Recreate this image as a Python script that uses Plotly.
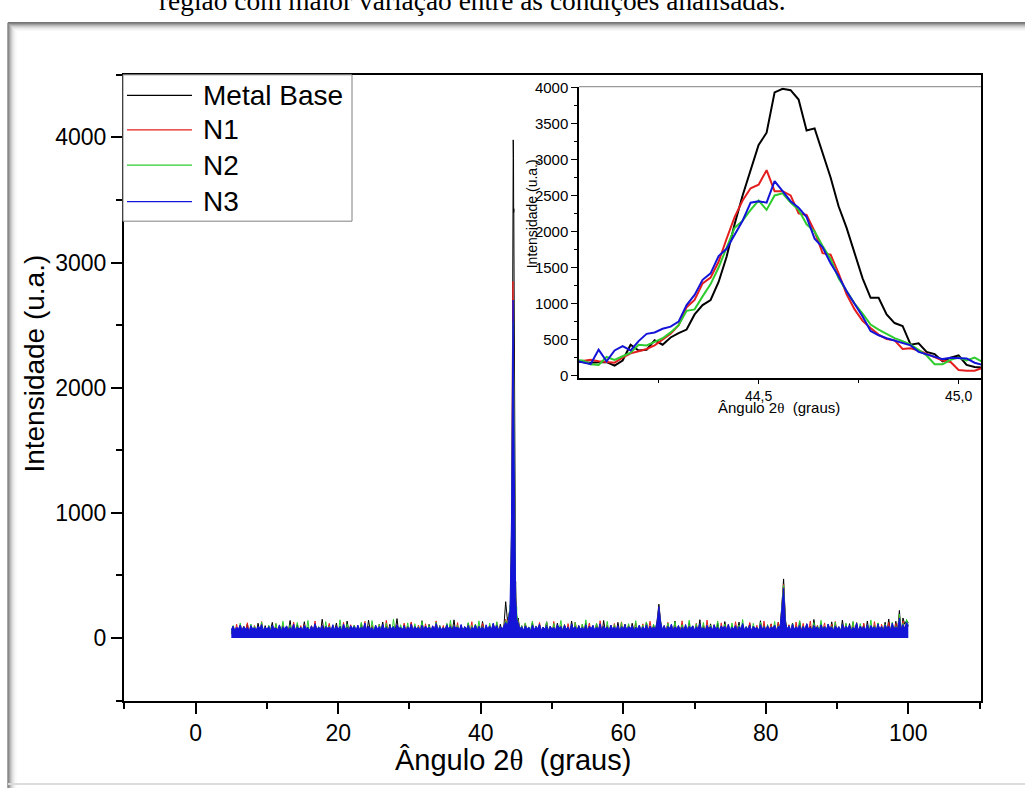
import numpy as np
import plotly.graph_objects as go

# ---------------------------------------------------------------
# XRD patterns (intensity in u.a.) for the base metal and N1..N3
# Sampling: coarse scan 5.00-44.00 and 45.25-100.00 (0.25 deg),
# fine scan around the (110) reflection 44.04-45.06 (0.02 deg)
# ---------------------------------------------------------------
series_names = ["Metal Base", "N1", "N2", "N3"]
series_colors = ["#000000", "#e41e1e", "#2ecc2e", "#1414d8"]

low_start, low_step, low_count = 5.0, 0.25, 157
peak_start, peak_step, peak_count = 44.04, 0.02, 52
high_start, high_step, high_count = 45.25, 0.25, 220

# --- 5.00 .. 44.00 ---
base_low = [
    40, 95, 22, 70, 55, 105, 30, 88, 60, 112,
    25, 90, 48, 76, 35, 118, 52, 84, 28, 99,
    45, 72, 63, 125, 38, 80, 20, 101, 58, 86,
    33, 94, 50, 140, 27, 83, 61, 107, 42, 75,
    56, 130, 31, 89, 47, 98, 24, 115, 65, 81,
    36, 150, 53, 92, 29, 104, 44, 87, 60, 120,
    26, 96, 49, 78, 37, 135, 55, 91, 32, 102,
    58, 85, 21, 117, 46, 93, 34, 142, 62, 88,
    39, 100, 27, 79, 54, 128, 30, 95, 48, 110,
    25, 86, 59, 155, 41, 90, 35, 106, 52, 82,
    44, 121, 28, 97, 63, 84, 38, 138, 50, 92,
    23, 109, 57, 80, 40, 126, 32, 99, 46, 87,
    61, 113, 26, 94, 53, 145, 35, 83, 49, 102,
    30, 90, 58, 119, 42, 85, 24, 108, 55, 96,
    37, 132, 47, 88, 29, 101, 60, 115, 43, 98,
    34, 110, 52, 95, 290, 140, 195]
n1_low = [
    30, 85, 50, 110, 26, 78, 60, 95, 35, 122,
    44, 70, 22, 100, 57, 83, 38, 131, 48, 76,
    29, 97, 62, 88, 33, 115, 46, 72, 55, 104,
    24, 92, 40, 79, 64, 127, 31, 86, 52, 99,
    36, 108, 27, 81, 58, 94, 42, 136, 23, 77,
    50, 101, 34, 89, 61, 118, 28, 84, 45, 96,
    56, 73, 37, 125, 25, 91, 53, 106, 41, 80,
    32, 98, 63, 87, 47, 133, 26, 75, 59, 103,
    39, 90, 22, 112, 54, 82, 35, 141, 49, 93,
    60, 78, 30, 105, 43, 86, 27, 119, 57, 97,
    34, 128, 51, 81, 24, 102, 62, 89, 38, 114,
    46, 74, 29, 96, 55, 137, 33, 85, 48, 100,
    25, 92, 60, 111, 40, 79, 53, 123, 28, 94,
    58, 83, 36, 107, 45, 130, 31, 88, 62, 99,
    27, 117, 50, 80, 39, 104, 56, 91, 33, 126,
    48, 95, 30, 86, 150, 110, 210]
n2_low = [
    35, 100, 55, 80, 28, 120, 48, 90, 62, 74,
    31, 112, 44, 96, 57, 85, 25, 128, 51, 79,
    38, 103, 66, 91, 30, 117, 47, 83, 59, 134,
    27, 95, 42, 107, 54, 78, 36, 124, 63, 88,
    29, 99, 50, 140, 33, 86, 58, 111, 41, 92,
    65, 81, 26, 131, 46, 97, 37, 105, 56, 84,
    32, 145, 52, 89, 24, 113, 61, 93, 43, 102,
    39, 87, 58, 126, 30, 98, 49, 80, 35, 139,
    55, 94, 27, 109, 64, 85, 40, 118, 47, 91,
    33, 150, 53, 82, 28, 106, 60, 96, 38, 121,
    45, 88, 26, 114, 57, 93, 34, 133, 50, 79,
    62, 101, 31, 90, 44, 127, 36, 97, 59, 84,
    29, 116, 48, 142, 35, 89, 56, 104, 40, 95,
    63, 86, 27, 123, 46, 99, 32, 110, 54, 137,
    38, 92, 60, 81, 28, 119, 51, 96, 42, 130,
    57, 88, 34, 100, 140, 100, 190]
n3_low = [
    67, 95, 59, 86, 73, 103, 62, 91, 70, 85,
    56, 99, 72, 83, 64, 94, 77, 108, 60, 88,
    69, 92, 55, 101, 74, 81, 63, 105, 58, 90,
    75, 97, 61, 84, 68, 111, 57, 89, 71, 87,
    64, 102, 76, 82, 59, 95, 67, 114, 62, 88,
    70, 100, 55, 93, 78, 85, 65, 106, 60, 96,
    73, 90, 57, 112, 69, 86, 62, 98, 77, 92,
    59, 104, 67, 88, 72, 119, 61, 94, 70, 84,
    56, 101, 74, 91, 64, 108, 68, 87, 58, 97,
    71, 93, 60, 105, 76, 85, 65, 99, 57, 89,
    69, 111, 62, 92, 73, 86, 59, 102, 67, 95,
    75, 88, 57, 98, 71, 115, 61, 90, 68, 84,
    63, 104, 72, 92, 58, 97, 78, 87, 66, 108,
    60, 91, 70, 100, 56, 85, 74, 103, 62, 94,
    68, 89, 59, 106, 71, 96, 65, 117, 76, 101,
    63, 93, 69, 99, 125, 95, 170]

# --- 44.04 .. 45.06 (fine scan, shown in the inset) ---
base_peak = [
    200, 190, 180, 185, 190, 140, 210, 430, 350, 360, 490,
    430, 530, 590, 640, 850, 980, 1050, 1300, 1650, 2100,
    2500, 2850, 3200, 3370, 3930, 3980, 3960, 3830, 3400, 3430,
    3100, 2750, 2350, 2050, 1700, 1350, 1080, 1080, 850, 730,
    690, 430, 450, 330, 300, 200, 250, 280, 150, 120, 110]
n1_peak = [
    190, 200, 220, 200, 190, 180, 250, 310, 340, 370, 420,
    500, 580, 700, 950, 1050, 1280, 1360, 1580, 1900, 2200,
    2430, 2600, 2650, 2850, 2560, 2560, 2500, 2250, 2230, 2000,
    1700, 1680, 1420, 1130, 920, 760, 660, 570, 510, 490,
    370, 380, 350, 300, 260, 210, 190, 80, 70, 70, 110]
n2_peak = [
    220, 210, 160, 150, 260, 220, 270, 320, 430, 420, 470,
    520, 600, 700, 900, 920, 1100, 1270, 1500, 1780, 2050,
    2150, 2300, 2430, 2300, 2500, 2530, 2400, 2300, 2100, 2000,
    1800, 1620, 1350, 1170, 1000, 860, 710, 640, 580, 520,
    480, 430, 360, 280, 160, 160, 220, 250, 210, 250, 190]
n3_peak = [
    210, 190, 160, 360, 200, 350, 410, 350, 480, 580, 600,
    650, 680, 750, 980, 1120, 1330, 1420, 1660, 1760, 1960,
    2150, 2400, 2420, 2400, 2700, 2560, 2420, 2330, 2200, 1900,
    1780, 1560, 1380, 1170, 1000, 820, 620, 560, 520, 490,
    460, 420, 330, 300, 260, 230, 250, 240, 240, 180, 150]

# --- 45.25 .. 100.00 ---
base_high = [
    160, 60, 98, 35, 112, 50, 88, 27, 125, 44,
    92, 58, 104, 31, 86, 62, 130, 39, 95, 47,
    82, 25, 118, 55, 90, 36, 107, 64, 85, 29,
    136, 48, 94, 33, 100, 57, 89, 41, 121, 26,
    97, 53, 84, 38, 114, 60, 92, 30, 140, 45,
    87, 22, 103, 56, 93, 34, 125, 49, 81, 62,
    110, 28, 96, 43, 118, 59, 86, 37, 99, 51,
    84, 33, 128, 46, 91, 25, 105, 58, 140, 270,
    130, 40, 97, 30, 115, 55, 88, 42, 135, 26,
    92, 60, 108, 36, 86, 49, 122, 31, 95, 57,
    83, 44, 146, 28, 101, 62, 90, 35, 113, 50,
    88, 24, 119, 53, 96, 40, 131, 58, 85, 33,
    104, 47, 92, 61, 127, 29, 99, 43, 88, 55,
    116, 36, 94, 50, 83, 27, 138, 45, 102, 59,
    90, 32, 110, 48, 97, 38, 124, 60, 260, 472,
    150, 44, 100, 35, 120, 56, 92, 29, 134, 51,
    87, 63, 112, 40, 95, 26, 148, 54, 90, 37,
    118, 46, 85, 58, 106, 31, 129, 42, 96, 61,
    89, 34, 143, 52, 98, 28, 115, 47, 84, 60,
    123, 38, 93, 55, 108, 30, 136, 44, 91, 57,
    100, 27, 118, 50, 87, 62, 126, 35, 152, 48,
    95, 41, 133, 58, 220, 39, 160, 110, 140, 120]
n1_high = [
    140, 45, 92, 30, 118, 55, 84, 38, 105, 26,
    97, 60, 124, 42, 88, 33, 110, 51, 79, 28,
    132, 47, 93, 36, 101, 58, 86, 24, 115, 49,
    82, 35, 127, 53, 95, 29, 108, 44, 90, 61,
    120, 32, 87, 50, 98, 25, 138, 46, 81, 57,
    103, 39, 92, 28, 116, 54, 85, 41, 129, 34,
    89, 59, 106, 31, 96, 48, 122, 37, 83, 52,
    113, 27, 94, 45, 134, 56, 88, 30, 120, 240,
    115, 43, 99, 35, 125, 50, 86, 27, 109, 58,
    91, 33, 137, 47, 84, 61, 104, 29, 96, 44,
    118, 52, 87, 36, 99, 25, 143, 49, 90, 38,
    106, 57, 82, 31, 121, 46, 93, 62, 111, 28,
    85, 40, 130, 54, 97, 34, 108, 47, 88, 59,
    124, 26, 95, 51, 102, 37, 89, 44, 135, 32,
    92, 60, 114, 29, 87, 48, 126, 39, 240, 430,
    140, 35, 106, 55, 91, 30, 128, 46, 84, 57,
    117, 33, 98, 49, 136, 27, 90, 58, 103, 41,
    86, 62, 121, 36, 95, 45, 109, 28, 132, 53,
    88, 39, 100, 56, 113, 31, 93, 47, 127, 34,
    97, 60, 85, 42, 119, 26, 104, 51, 90, 38,
    131, 48, 94, 33, 110, 57, 87, 29, 125, 45,
    99, 36, 116, 52, 180, 30, 135, 60, 105, 90]
n2_high = [
    130, 52, 98, 34, 121, 47, 89, 62, 135, 29,
    94, 56, 108, 38, 85, 60, 127, 43, 92, 31,
    116, 49, 87, 65, 140, 33, 96, 54, 83, 40,
    102, 27, 125, 58, 91, 36, 112, 48, 145, 30,
    88, 61, 99, 42, 119, 25, 93, 55, 86, 37,
    133, 50, 95, 28, 107, 63, 84, 41, 124, 35,
    97, 57, 115, 30, 90, 46, 138, 39, 87, 60,
    104, 26, 128, 53, 94, 44, 110, 32, 115, 230,
    125, 48, 92, 37, 118, 59, 85, 29, 130, 52,
    96, 40, 106, 62, 88, 33, 142, 47, 91, 56,
    113, 28, 97, 45, 124, 36, 89, 58, 103, 31,
    86, 64, 136, 41, 95, 27, 111, 53, 90, 38,
    120, 47, 84, 60, 105, 34, 148, 42, 93, 55,
    98, 29, 117, 50, 87, 39, 126, 61, 94, 26,
    109, 46, 91, 57, 132, 35, 100, 44, 250, 420,
    130, 52, 96, 31, 114, 58, 88, 40, 139, 27,
    92, 63, 107, 36, 85, 48, 123, 30, 97, 54,
    141, 43, 90, 59, 112, 25, 94, 51, 128, 37,
    87, 62, 103, 33, 119, 46, 91, 56, 134, 29,
    95, 40, 115, 61, 88, 35, 106, 49, 144, 32,
    98, 57, 121, 28, 93, 44, 110, 60, 86, 39,
    127, 50, 96, 34, 190, 55, 118, 42, 150, 100]
n3_high = [
    120, 70, 90, 61, 97, 74, 85, 58, 104, 67,
    92, 76, 109, 60, 88, 69, 99, 56, 94, 72,
    86, 63, 106, 77, 92, 59, 101, 68, 89, 55,
    112, 73, 91, 61, 98, 70, 85, 65, 105, 58,
    94, 75, 102, 62, 88, 67, 114, 56, 96, 71,
    90, 60, 103, 74, 87, 66, 100, 55, 92, 69,
    107, 63, 91, 78, 97, 59, 86, 72, 103, 62,
    90, 70, 105, 60, 96, 73, 88, 65, 130, 250,
    125, 67, 99, 58, 94, 75, 111, 63, 89, 71,
    101, 57, 87, 68, 108, 61, 93, 76, 98, 59,
    91, 72, 113, 65, 86, 58, 102, 74, 91, 62,
    106, 69, 89, 56, 97, 77, 94, 66, 109, 60,
    87, 71, 100, 59, 92, 73, 116, 63, 90, 68,
    103, 57, 95, 75, 85, 62, 107, 70, 91, 60,
    99, 67, 88, 78, 104, 58, 93, 85, 235, 400,
    125, 73, 97, 60, 110, 68, 89, 76, 102, 57,
    94, 65, 115, 71, 87, 61, 100, 74, 90, 58,
    105, 69, 92, 63, 112, 77, 88, 59, 98, 72,
    91, 56, 108, 67, 95, 75, 103, 62, 86, 70,
    118, 60, 96, 73, 91, 66, 106, 57, 100, 76,
    89, 64, 111, 69, 93, 59, 104, 74, 97, 61,
    120, 71, 90, 65, 160, 67, 107, 75, 125, 100]

# Axis ticks
main_x_ticks = [0, 20, 40, 60, 80, 100]
main_x_minor = [-10, 10, 30, 50, 70, 90, 110]
main_y_ticks = [0, 1000, 2000, 3000, 4000]
main_y_minor = [-500, 500, 1500, 2500, 3500, 4500]
inset_x_ticks = [44.5, 45.0]
inset_x_labels = ["44,5", "45,0"]
inset_x_minor = [44.25, 44.75]
inset_y_ticks = [0, 500, 1000, 1500, 2000, 2500, 3000, 3500, 4000]
inset_y_minor = [250, 750, 1250, 1750, 2250, 2750, 3250, 3750]

low_angles = np.round(low_start + low_step * np.arange(low_count), 2)
peak_angles = np.round(peak_start + peak_step * np.arange(peak_count), 2)
high_angles = np.round(high_start + high_step * np.arange(high_count), 2)
angles = np.concatenate([low_angles, peak_angles, high_angles])

lows = [base_low, n1_low, n2_low, n3_low]
peaks = [base_peak, n1_peak, n2_peak, n3_peak]
highs = [base_high, n1_high, n2_high, n3_high]

W, H = 1025, 794


def px(x):
    return x / W


def py(y):
    return 1 - y / H


FONT = "Arial, 'Liberation Sans', sans-serif"
SERIF = "'Times New Roman', 'Liberation Serif', serif"

fig = go.Figure()

# full-range patterns; the last one (drawn on top) is shaded down to zero
for i, (name, color, lo, pk, hi) in enumerate(zip(series_names, series_colors, lows, peaks, highs)):
    last = i == len(series_names) - 1
    fig.add_trace(go.Scatter(
        x=angles, y=np.concatenate([lo, pk, hi]), name=name, mode="lines",
        line=dict(color=color, width=1), fill="tozeroy" if last else None,
        fillcolor=color if last else None, showlegend=False, xaxis="x", yaxis="y"))

# zoom on the main reflection
for name, color, pk in zip(series_names, series_colors, peaks):
    fig.add_trace(go.Scatter(
        x=peak_angles, y=pk, name=name, mode="lines", showlegend=False,
        line=dict(color=color, width=2), xaxis="x2", yaxis="y2"))

# plot-area geometry (pixels)
mx0, mx1, my0, my1 = 124, 981, 68, 705
ix0, ix1, iy0, iy1 = 579, 981, 80, 377

axis_common = dict(showgrid=False, zeroline=False, showline=True, linecolor="black",
                   ticks="outside", tickcolor="black")

fig.update_layout(
    width=W, height=H, margin=dict(l=0, r=0, t=0, b=0),
    paper_bgcolor="white", plot_bgcolor="rgba(0,0,0,0)",
    font=dict(family=FONT, color="black"),
    showlegend=False,
    xaxis=dict(domain=[px(mx0), px(mx1)], range=[-10.06, 110.2],
               tickvals=main_x_ticks, ticklen=11, tickwidth=2, linewidth=2, mirror=True,
               tickfont=dict(size=23, family=FONT),
               minor=dict(tickvals=main_x_minor, ticklen=6, tickwidth=2, ticks="outside",
                          tickcolor="black"),
               **axis_common),
    yaxis=dict(domain=[py(my1), py(my0)], range=[-500, 4500],
               tickvals=main_y_ticks, ticklen=11, tickwidth=2, linewidth=2, mirror=True,
               tickfont=dict(size=23, family=FONT),
               minor=dict(tickvals=main_y_minor, ticklen=6, tickwidth=2, ticks="outside",
                          tickcolor="black"),
               **axis_common),
    xaxis2=dict(domain=[px(ix0), px(ix1)], range=[44.051, 45.056], anchor="y2",
                tickvals=inset_x_ticks, ticktext=inset_x_labels, ticklen=4, tickwidth=1,
                linewidth=1.5, tickfont=dict(size=14, family=FONT),
                minor=dict(tickvals=inset_x_minor, ticklen=3, tickwidth=1, ticks="outside",
                           tickcolor="black"),
                **axis_common),
    yaxis2=dict(domain=[py(iy1), py(iy0)], range=[-37, 4010], anchor="x2",
                tickvals=inset_y_ticks, ticklen=6, tickwidth=1, linewidth=1.5,
                tickfont=dict(size=15, family=FONT),
                minor=dict(tickvals=inset_y_minor, ticklen=3, tickwidth=1, ticks="outside",
                           tickcolor="black"),
                **axis_common),
)

shapes = []
# page frame with a soft drop shadow on the top and left edges
shade = ["#4d4d4d", "#6e6e6e", "#8f8f8f", "#adadad", "#c6c6c6", "#d9d9d9",
         "#e7e7e7", "#f1f1f1", "#f8f8f8"]
for k, c in enumerate(shade):
    shapes.append(dict(type="line", xref="paper", yref="paper",
                       x0=px(8 + k), x1=1, y0=py(15 + k), y1=py(15 + k),
                       line=dict(color=c, width=1)))
    shapes.append(dict(type="line", xref="paper", yref="paper",
                       x0=px(8 + k), x1=px(8 + k), y0=py(15 + k), y1=0,
                       line=dict(color=c, width=1)))
shapes.append(dict(type="line", xref="paper", yref="paper", x0=px(8), x1=1,
                   y0=py(790), y1=py(790), line=dict(color="#dcdcdc", width=2)))
# top border of the inset
shapes.append(dict(type="line", xref="x2 domain", yref="y2 domain", x0=0, x1=1, y0=1, y1=1,
                   line=dict(color="#9a9a9a", width=1.2)))

# legend box with a line sample per series
leg_x0, leg_x1, leg_y0, leg_y1 = 123, 352, 68, 217
leg_rows = [89, 124, 160, 197]
shapes.append(dict(type="rect", xref="paper", yref="paper", layer="above",
                   x0=px(leg_x0), x1=px(leg_x1), y0=py(leg_y1), y1=py(leg_y0),
                   fillcolor="white", line=dict(color="#808080", width=1)))
annotations = []
for name, color, row in zip(series_names, series_colors, leg_rows):
    shapes.append(dict(type="line", xref="paper", yref="paper", layer="above",
                       x0=px(127), x1=px(192), y0=py(row), y1=py(row),
                       line=dict(color=color, width=1.2)))
    annotations.append(dict(text=name, xref="paper", yref="paper", x=px(201), y=py(row),
                            xanchor="left", yanchor="middle", showarrow=False,
                            font=dict(size=28, family=FONT, color="black")))

theta = "<span style=\"font-family:'Times New Roman','Liberation Serif',serif\">θ</span>"
annotations += [
    dict(text="região com maior variação entre as condições analisadas.",
         xref="paper", yref="paper", x=px(157), y=py(-7), xanchor="left", yanchor="middle",
         showarrow=False, font=dict(family=SERIF, size=27.4, color="black")),
    dict(text="Ângulo 2" + theta + "\u00a0 (graus)", xref="paper", yref="paper",
         x=px(513), y=py(766), xanchor="center", yanchor="middle", showarrow=False,
         font=dict(size=29, family=FONT)),
    dict(text="Intensidade (u.a.)", xref="paper", yref="paper", x=px(35), y=py(362),
         xanchor="center", yanchor="middle", textangle=-90, showarrow=False,
         font=dict(size=28, family=FONT)),
    dict(text="Ângulo 2" + theta + "\u00a0 (graus)", xref="paper", yref="paper",
         x=px(779), y=py(407), xanchor="center", yanchor="middle", showarrow=False,
         font=dict(size=15, family=FONT)),
    dict(text="Intensidade (u.a.)", xref="paper", yref="paper", x=px(532), y=py(210),
         xanchor="center", yanchor="middle", textangle=-90, showarrow=False,
         font=dict(size=14, family=FONT)),
]

fig.update_layout(shapes=shapes, annotations=annotations)
fig.write_html("out.html")
